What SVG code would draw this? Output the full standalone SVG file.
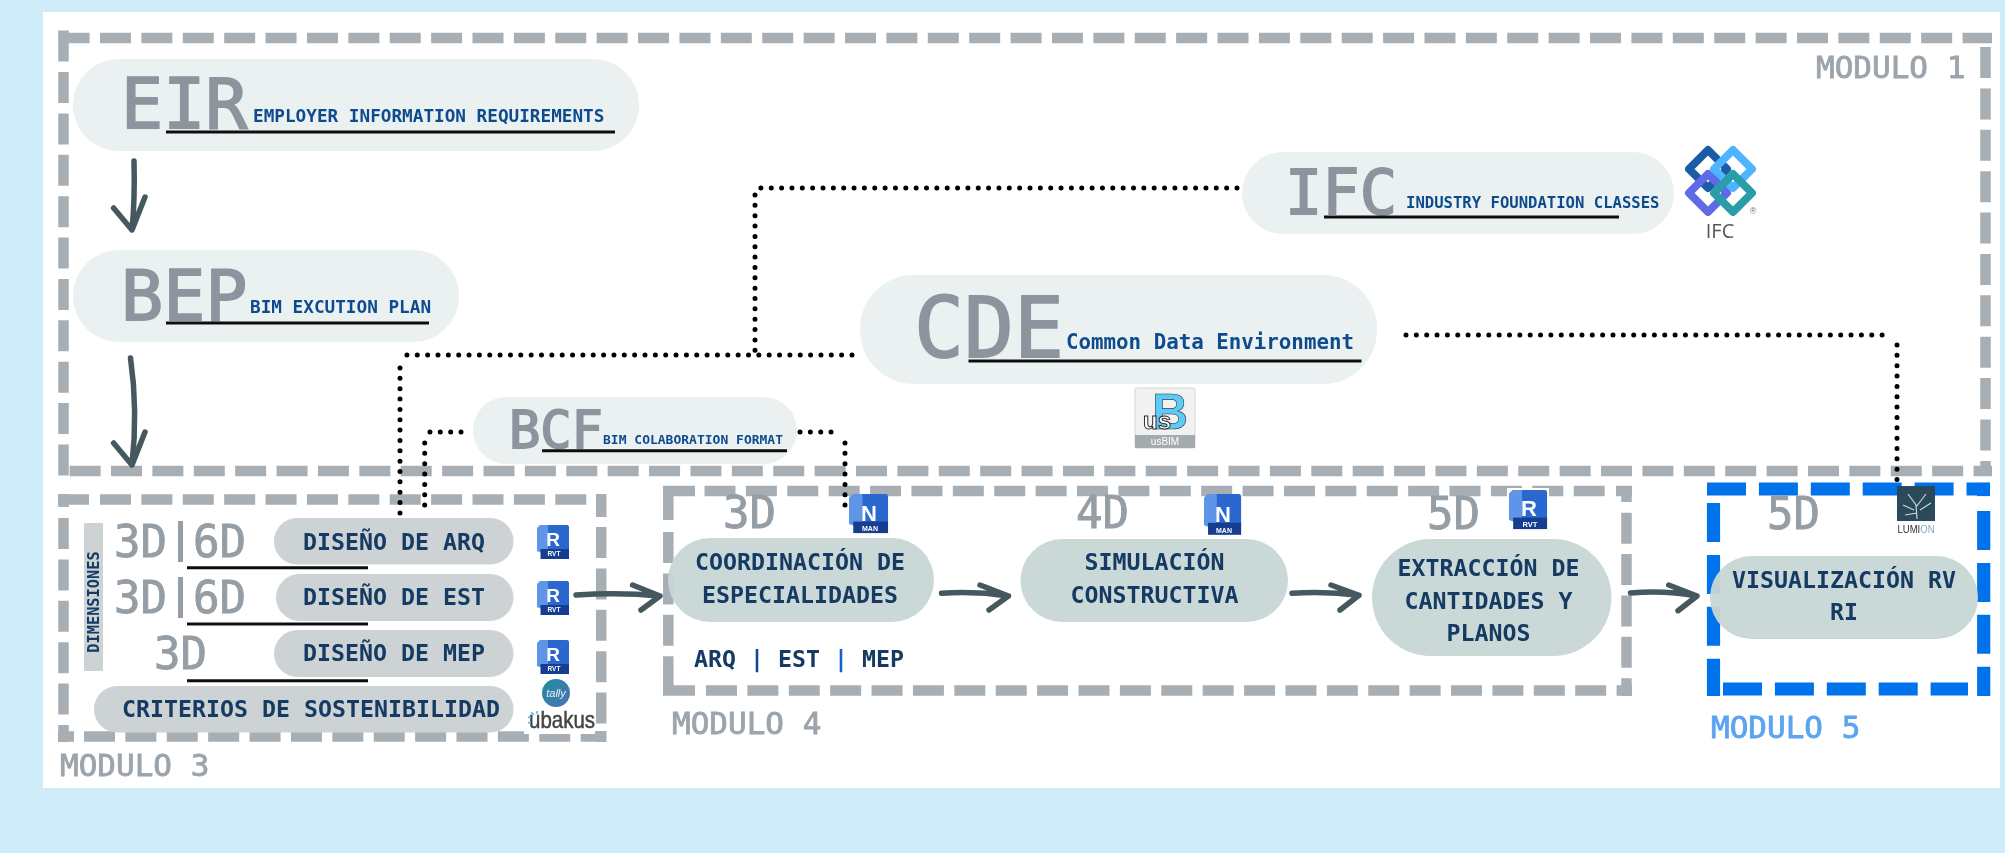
<svg xmlns="http://www.w3.org/2000/svg" width="2005" height="853" viewBox="0 0 2005 853">
<style>
text{font-family:"DejaVu Sans Mono","Liberation Mono",monospace}
.d{fill:none;stroke:#A8AFB4;stroke-width:10.5;stroke-dasharray:31 10.39}
.b{fill:none;stroke:#0073EA;stroke-width:13.2;stroke-dasharray:39 12.9}
.dot{fill:none;stroke:#000;stroke-width:5;stroke-linecap:round;stroke-dasharray:0 10.35}
.arr{fill:none;stroke:#44585F;stroke-width:5.5;stroke-linecap:round;stroke-linejoin:round}
.ul{stroke:#111;stroke-width:3}
.p1{fill:#EBF0F0}.p2{fill:#CDD2D5}.p3{fill:#C7D6D6;fill-opacity:.95}
.big{fill:#8C959E;stroke:#8C959E;stroke-width:1.800}
.dim{fill:#959DA5;stroke:#959DA5;stroke-width:.9;font-size:44px}
.sm{fill:#0F4C8F;font-weight:700}
.t{fill:#133A63;font-weight:700;font-size:23.25px;text-anchor:middle}
.mod{fill:#9CA4AC;stroke:#9CA4AC;stroke-width:.8;font-size:31px}
.w{fill:#fff;font-family:"Liberation Sans",Arial,sans-serif;font-weight:700;text-anchor:middle}
</style>
<defs>
<g id="app">
<rect x="4" y="0" width="28" height="28" rx="2" fill="#2A68D0"/>
<path d="M3 0H11V30L0 26V3Z" fill="#5F95E8"/>
<rect x="3.500" y="24" width="28.500" height="10" fill="#123E8F"/>
</g>
<filter id="soft" x="0" y="0" width="100%" height="100%"><feGaussianBlur stdDeviation=".55"/></filter>
<linearGradient id="tally" x1="0" y1="0" x2="1" y2="1"><stop offset="0" stop-color="#1E8F9E"/><stop offset="1" stop-color="#4E6FB5"/></linearGradient>
</defs>
<rect width="2005" height="853" fill="#CFEDF8"/>
<rect x="43" y="12" width="1957" height="776" fill="#fff"/>
<g filter="url(#soft)">
<g id="module-1">
<path class="d" d="M58.600 38H1992"/>
<path class="d" d="M1985.500 47V476"/>
<path class="d" d="M69.600 471H1992"/>
<path class="d" d="M63.500 30.600V476"/>
<text class="mod" x="1816" y="78">MODULO 1</text>
</g>
<g id="module-3">
<path class="d" d="M100 499.500H587"/>
<path class="d" d="M58 499.500H89M63.500 494V507" style="stroke-dasharray:none"/>
<path class="d" d="M601.200 494V517" style="stroke-dasharray:none"/>
<path class="d" d="M601.200 527V731"/>
<path class="d" d="M63.500 518V742"/>
<path class="d" d="M84 736.500H582"/>
<path class="d" d="M58 736.500H74M582 736.500H606.500M601.200 731V742" style="stroke-dasharray:none"/>
<text class="mod" x="60" y="776">MODULO 3</text>
</g>
<g id="module-4">
<path class="d" d="M704.500 491H1615"/>
<path class="d" d="M663 491H695M668.300 486V520" style="stroke-dasharray:none"/>
<path class="d" d="M668.300 532V696"/>
<path class="d" d="M706 690.500H1632"/>
<path class="d" d="M663 690.500H695" style="stroke-dasharray:none"/>
<path class="d" d="M1616 491H1632M1626.500 486V502" style="stroke-dasharray:none"/>
<path class="d" d="M1626.500 512.700V696"/>
<text class="mod" x="672" y="734">MODULO 4</text>
</g>
<g id="module-5">
<path class="b" d="M1707 489H1990"/>
<path class="b" d="M1713.500 503V696"/>
<path class="b" d="M1723 689H1968"/>
<path class="b" d="M1983.700 511V696"/>
<path class="b" d="M1977 489.500H1990" style="stroke-dasharray:none"/>
<text class="mod" x="1711" y="738" style="fill:#5BA4F0;stroke:#5BA4F0">MODULO 5</text>
</g>

<g id="connectors">
<path class="dot" d="M852 355H404"/>
<path class="dot" d="M400 368V515"/>
<path class="dot" d="M461 432H427"/>
<path class="dot" d="M424.700 443V506"/>
<path class="dot" d="M800 432H834"/>
<path class="dot" d="M845 443V506"/>
<path class="dot" d="M1237 188H760"/>
<path class="dot" d="M755 195V355"/>
<path class="dot" d="M1406 335H1888"/>
<path class="dot" d="M1897 345V481"/>
<path class="arr" d="M134 161Q135 200 132 230M113.600 208L132 230L145 197"/>
<path class="arr" d="M130.500 358Q138 410 132 465M113.600 443L132 465L145 432"/>
<path class="arr" d="M576 595Q620 592 660 596M632.600 585L660 596L641 610"/>
<path class="arr" d="M941.500 593.300Q975 591 1008.500 596M980 585L1008.500 596L989 610"/>
<path class="arr" d="M1292 593.300Q1325 591 1359 595.300M1331 585L1359 595.300L1340 610"/>
<path class="arr" d="M1630.500 593Q1665 590 1697 596M1668.700 585L1697 596L1678 610.700"/>
</g>

<g id="eir">
<rect class="p1" x="73" y="59" width="566" height="92" rx="46"/>
<text class="big" x="121" y="128" font-size="70">EIR</text>
<text class="sm" x="253" y="122" font-size="17.700">EMPLOYER INFORMATION REQUIREMENTS</text>
<path class="ul" d="M166 132H615"/>
</g>
<g id="bep">
<rect class="p1" x="73" y="250" width="386" height="92" rx="46"/>
<text class="big" x="121" y="320" font-size="70">BEP</text>
<text class="sm" x="250" y="313" font-size="17.700">BIM EXCUTION PLAN</text>
<path class="ul" d="M166 323H429"/>
</g>
<g id="bcf">
<rect class="p1" x="473" y="397" width="324" height="67" rx="33.500"/>
<text class="big" x="509" y="448" font-size="52">BCF</text>
<text class="sm" x="603" y="444" font-size="13">BIM COLABORATION FORMAT</text>
<path class="ul" d="M542 450.700H787"/>
</g>
<g id="ifc">
<rect class="p1" x="1242" y="152" width="432" height="82" rx="41"/>
<text class="big" x="1285" y="214" font-size="62">IFC</text>
<text class="sm" x="1406" y="208" font-size="15.600">INDUSTRY FOUNDATION CLASSES</text>
<path class="ul" d="M1324 217H1619"/>
<g id="ifc-logo" fill="none" stroke-width="8" stroke-linejoin="round">
<path d="M1708 150L1727 169L1708 188L1689 169Z" stroke="#1F5CA5"/>
<path d="M1733 150L1752 169L1733 188L1714 169Z" stroke="#4DB4FF"/>
<path d="M1708 174L1727 193L1708 212L1689 193Z" stroke="#5E6AE8"/>
<path d="M1733 174L1752 193L1733 212L1714 193Z" stroke="#2A9EA8"/>
<text x="1720" y="238" font-size="20" text-anchor="middle" fill="#555" stroke="none" style="font-family:'Open Sans',sans-serif">IFC</text>
<text x="1753" y="214" font-size="9" text-anchor="middle" fill="#777" stroke="none" style="font-family:'Liberation Sans',sans-serif">®</text>
</g>
</g>
<g id="cde">
<rect class="p1" x="860" y="275" width="517" height="109" rx="54"/>
<text class="big" x="914" y="357" font-size="83">CDE</text>
<text class="sm" x="1066" y="349" font-size="20.800">Common Data Environment</text>
<path class="ul" d="M968.500 361H1361.500"/>
<g id="usbim">
<rect x="1135" y="388" width="60" height="60" rx="2" fill="#F1F1F1" stroke="#D5D5D5"/>
<rect x="1135" y="435" width="60" height="13" fill="#A4ABAF"/>
<text class="w" x="1165" y="445" font-size="10" style="font-weight:400">usBIM</text>
<text x="1170" y="429" font-size="50" font-weight="700" fill="#5CCBF5" stroke="#2B3A42" stroke-width=".6" text-anchor="middle" style="font-family:'Liberation Sans',sans-serif">B</text>
<text x="1157" y="429" font-size="24" font-weight="700" fill="#fff" stroke="#2B2B2B" stroke-width="1" text-anchor="middle" style="font-family:'Liberation Sans',sans-serif">us</text>
</g>
</g>

<g id="dimensiones">
<rect class="p2" x="84" y="523" width="19" height="148"/>
<text class="sm" x="0" y="0" font-size="15.300" transform="translate(98.500 652.700) rotate(-90)" style="fill:#133A63">DIMENSIONES</text>
</g>
<g id="dim-labels">
<text class="dim" x="114" y="557">3D</text><text class="dim" x="193" y="557">6D</text><rect x="178" y="521" width="5" height="41" fill="#959DA5"/>
<text class="dim" x="114" y="613">3D</text><text class="dim" x="193" y="613">6D</text><rect x="178" y="577" width="5" height="41" fill="#959DA5"/>
<text class="dim" x="154" y="669">3D</text>
<path class="ul" d="M187 567.700H368M187 624H368M187 680.700H368"/>
</g>
<g id="diseno-arq">
<rect class="p2" x="274" y="518" width="239.500" height="46.500" rx="23.250"/>
<text class="t" x="394" y="550">DISEÑO DE ARQ</text>
</g>
<g id="diseno-est">
<rect class="p2" x="276" y="574" width="237.500" height="47" rx="23.500"/>
<text class="t" x="394" y="605">DISEÑO DE EST</text>
</g>
<g id="diseno-mep">
<rect class="p2" x="274" y="630" width="239.500" height="47" rx="23.500"/>
<text class="t" x="394" y="661">DISEÑO DE MEP</text>
</g>
<g id="criterios">
<rect class="p2" x="94" y="686" width="419.500" height="46.500" rx="23.250"/>
<text class="t" x="311" y="717">CRITERIOS DE SOSTENIBILIDAD</text>
</g>
<g id="icons-m3">
<use href="#app" x="537" y="525"/><text class="w" x="553" y="546" font-size="19">R</text><text class="w" x="554" y="556" font-size="6.500">RVT</text>
<use href="#app" x="537" y="581"/><text class="w" x="553" y="602" font-size="19">R</text><text class="w" x="554" y="612" font-size="6.500">RVT</text>
<use href="#app" x="537" y="640"/><text class="w" x="553" y="661" font-size="19">R</text><text class="w" x="554" y="671" font-size="6.500">RVT</text>
<circle cx="556" cy="693" r="14" fill="url(#tally)"/>
<text x="556" y="697" font-size="11" fill="#E6F0F5" font-style="italic" text-anchor="middle" style="font-family:'Liberation Sans',sans-serif">tally</text>
<rect x="524" y="709" width="71" height="25" fill="#fff"/>
<text x="529" y="728" font-size="24" fill="#444" stroke="#444" stroke-width=".5" style="font-family:'Liberation Sans',sans-serif" textLength="66" lengthAdjust="spacingAndGlyphs">ubakus</text>
<path d="M531 712L534 715M528 717L531 718M537 711L537 714M528 723L531 722" stroke="#5BB8F0" stroke-width="1.500" fill="none"/>
</g>

<g id="coordinacion">
<text class="dim" x="723" y="528">3D</text>
<rect class="p3" x="668" y="538" width="266" height="84" rx="42"/>
<text class="t" x="800" y="570">COORDINACIÓN DE</text>
<text class="t" x="800" y="602.700">ESPECIALIDADES</text>
<text class="t" x="799" y="666.700" xml:space="preserve">ARQ <tspan fill="#0F4C8F">|</tspan> EST <tspan fill="#1760C8">|</tspan> MEP</text>
<g transform="translate(849 494) scale(1.220 1.150)"><use href="#app"/></g>
<text class="w" x="869" y="521" font-size="22">N</text><text class="w" x="870" y="531" font-size="7">MAN</text>
</g>
<g id="simulacion">
<text class="dim" x="1076" y="528">4D</text>
<rect class="p3" x="1020.500" y="539" width="267.500" height="83" rx="41.500"/>
<text class="t" x="1154.500" y="570">SIMULACIÓN</text>
<text class="t" x="1154.500" y="602.700">CONSTRUCTIVA</text>
<g transform="translate(1204 494) scale(1.160 1.200)"><use href="#app"/></g>
<text class="w" x="1223" y="522" font-size="22">N</text><text class="w" x="1224" y="533" font-size="7">MAN</text>
</g>
<g id="extraccion">
<text class="dim" x="1427" y="529">5D</text>
<rect class="p3" x="1372" y="539" width="239.500" height="117" rx="58.500"/>
<text class="t" x="1488.500" y="576">EXTRACCIÓN DE</text>
<text class="t" x="1488.500" y="608.700">CANTIDADES Y</text>
<text class="t" x="1488.500" y="641">PLANOS</text>
<rect x="1507" y="488" width="42" height="42" fill="#fff"/>
<g transform="translate(1509 490) scale(1.190 1.150)"><use href="#app"/></g>
<text class="w" x="1529" y="516" font-size="22">R</text><text class="w" x="1530" y="527" font-size="7.500">RVT</text>
</g>
<g id="visualizacion">
<text class="dim" x="1767" y="529">5D</text>
<rect class="p3" x="1710" y="556" width="268" height="83" rx="41.500"/>
<text class="t" x="1844" y="587.700">VISUALIZACIÓN RV</text>
<text class="t" x="1844" y="620.300">RI</text>
<rect x="1897" y="486" width="38" height="35" fill="#2A4A5A"/>
<rect x="1897" y="521" width="38" height="14" fill="#fff"/>
<path d="M1917 519L1916 505L1908 494M1916 507L1926 494M1920 510L1931 503M1914 510L1903 505M1917 513L1905 515" fill="none" stroke="#C8D6DC" stroke-width="1.200"/>
<text x="1916" y="533" font-size="10" text-anchor="middle" fill="#333" style="font-family:'Liberation Sans',sans-serif" textLength="37" lengthAdjust="spacingAndGlyphs">LUMI<tspan fill="#7FA8B8">ON</tspan></text>
</g>
</g>
</svg>
